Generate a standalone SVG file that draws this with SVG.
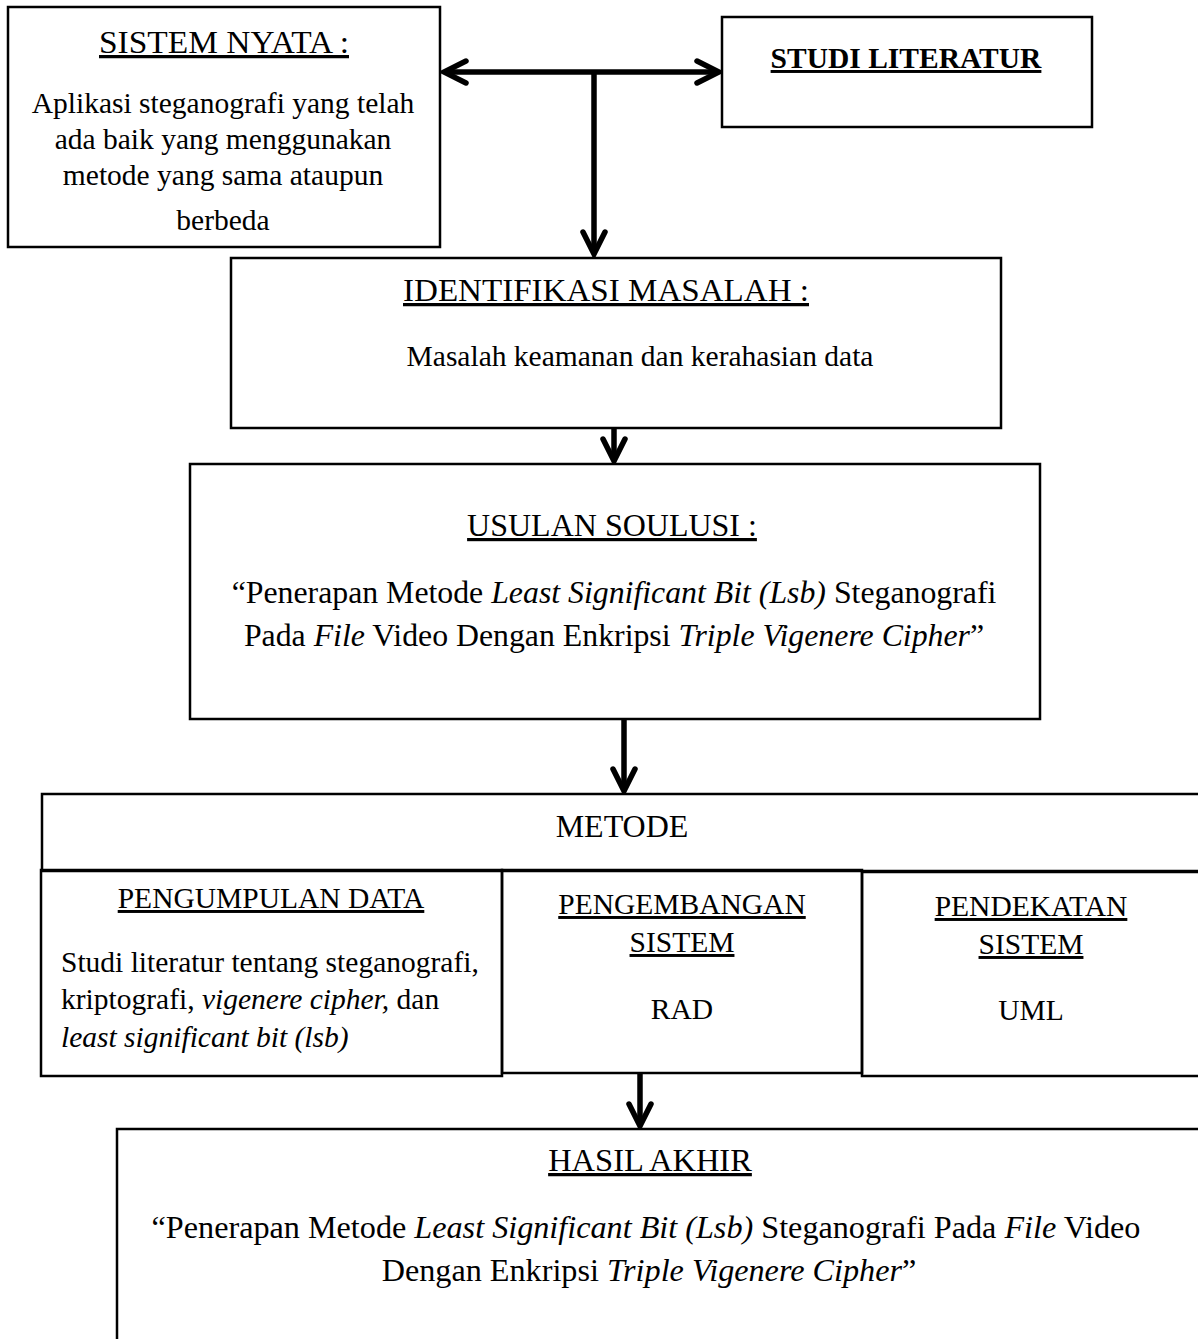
<svg xmlns="http://www.w3.org/2000/svg" width="1198" height="1339" viewBox="0 0 1198 1339">
<style>
.box{fill:none;stroke:#000;stroke-width:2.5}
.t{font-family:"Liberation Serif","Times New Roman",serif;font-size:29.5px;fill:#000;text-anchor:middle}
.l{text-anchor:start}
.u{text-decoration:underline}
.b{font-weight:bold}
.q{font-size:31.8px}
.h{font-size:32.5px}
.i{font-style:italic}
.con{fill:none;stroke:#000;stroke-width:5.5}
</style>
<defs>
<marker id="ah" markerUnits="userSpaceOnUse" viewBox="-30 -16 34 32" markerWidth="34" markerHeight="32" refX="0" refY="0" orient="auto-start-reverse">
<path d="M-22,-11 L0,0 L-22,11" fill="none" stroke="#000" stroke-width="5.5" stroke-linecap="round" stroke-linejoin="miter"/>
</marker>
</defs>
<rect width="1198" height="1339" fill="#fff"/>
<g id="connectors">
<path class="con" d="M444,72 H719" marker-start="url(#ah)" marker-end="url(#ah)"/>
<path class="con" d="M594,72 V254" marker-end="url(#ah)"/>
<path class="con" d="M614,428 V461" marker-end="url(#ah)"/>
<path class="con" d="M624,719 V791" marker-end="url(#ah)"/>
<path class="con" d="M640,1073 V1126" marker-end="url(#ah)"/>
</g>
<g id="sistem-nyata">
<rect class="box" x="8" y="7" width="432" height="240"/>
<text class="t u h" x="224" y="53" textLength="250" lengthAdjust="spacingAndGlyphs">SISTEM NYATA :</text>
<text class="t" x="223" y="113">Aplikasi steganografi yang telah</text>
<text class="t" x="223" y="149">ada baik yang menggunakan</text>
<text class="t" x="223" y="185">metode yang sama ataupun</text>
<text class="t" x="223" y="230">berbeda</text>
</g>
<g id="studi-literatur">
<rect class="box" x="722" y="17" width="370" height="110"/>
<text class="t u b" x="906" y="68" style="font-size:29.5px">STUDI LITERATUR</text>
</g>
<g id="identifikasi-masalah">
<rect class="box" x="231" y="258" width="770" height="170"/>
<text class="t u h" x="606" y="301" textLength="406" lengthAdjust="spacingAndGlyphs">IDENTIFIKASI MASALAH :</text>
<text class="t" x="640" y="366">Masalah keamanan dan kerahasian data</text>
</g>
<g id="usulan-solusi">
<rect class="box" x="190" y="464" width="850" height="255"/>
<text class="t u" x="612" y="536" style="font-size:32px">USULAN SOULUSI :</text>
<text class="t q" x="614" y="603">“Penerapan Metode <tspan class="i">Least Significant Bit (Lsb)</tspan> Steganografi</text>
<text class="t q" x="614" y="646">Pada <tspan class="i">File</tspan> Video Dengan Enkripsi <tspan class="i">Triple Vigenere Cipher</tspan>”</text>
</g>
<g id="metode">
<rect class="box" x="42" y="794" width="1170" height="77"/>
<text class="t" x="622" y="837" style="font-size:32px">METODE</text>
</g>
<g id="pengumpulan-data">
<rect class="box" x="41" y="870" width="461" height="206"/>
<text class="t u" x="271" y="908">PENGUMPULAN DATA</text>
<text class="t l" x="61" y="972">Studi literatur tentang steganografi,</text>
<text class="t l" x="61" y="1009">kriptografi, <tspan class="i">vigenere cipher,</tspan> dan</text>
<text class="t l" x="61" y="1047"><tspan class="i">least significant bit (lsb)</tspan></text>
</g>
<g id="pengembangan-sistem">
<rect class="box" x="502" y="870" width="360" height="203"/>
<text class="t u" x="682" y="914">PENGEMBANGAN</text>
<text class="t u" x="682" y="952">SISTEM</text>
<text class="t" x="682" y="1019">RAD</text>
</g>
<g id="pendekatan-sistem">
<rect class="box" x="862" y="872" width="350" height="204"/>
<text class="t u" x="1031" y="916">PENDEKATAN</text>
<text class="t u" x="1031" y="954">SISTEM</text>
<text class="t" x="1031" y="1020">UML</text>
</g>
<g id="hasil-akhir">
<rect class="box" x="117" y="1129" width="1100" height="230"/>
<text class="t u" x="650" y="1171" style="font-size:32.5px">HASIL AKHIR</text>
<text class="t" x="646" y="1238" style="font-size:32.2px">“Penerapan Metode <tspan class="i">Least Significant Bit (Lsb)</tspan> Steganografi Pada <tspan class="i">File</tspan> Video</text>
<text class="t" x="649" y="1281" style="font-size:32.2px">Dengan Enkripsi <tspan class="i">Triple Vigenere Cipher</tspan>”</text>
</g>
</svg>
